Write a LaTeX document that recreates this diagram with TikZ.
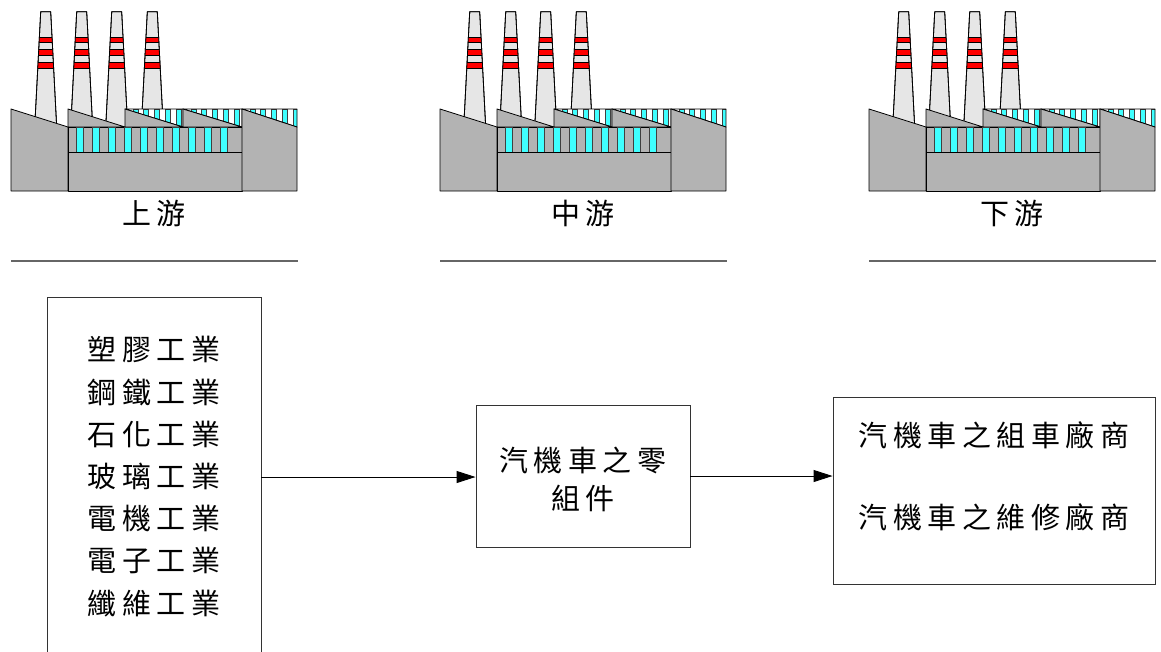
\documentclass[tikz,border=0pt]{standalone}
\usepackage{fontspec}
\newfontfamily\cjk{Noto Sans CJK TC}
\usetikzlibrary{arrows.meta}
\definecolor{bldgray}{HTML}{B3B3B3}
\definecolor{stackgray}{HTML}{E6E6E6}
\definecolor{wincyan}{HTML}{40FFFF}
\definecolor{bandred}{HTML}{FF0000}
\newcommand\gp{\kern5.5pt}
\tikzset{
  outline/.style={draw=black,line width=0.8pt,line join=round},
  bld/.style={outline,fill=bldgray},
  stack/.style={outline,fill=stackgray},
  win/.style={draw=black!75,line width=0.6pt,fill=wincyan},
  band/.style={draw=black,line width=0.6pt,fill=bandred},
  txt/.style={font=\cjk\fontsize{29pt}{42.2pt}\selectfont,inner sep=0pt,align=center},
  box/.style={draw=black!80,line width=0.9pt,fill=white,inner sep=0pt},
  rule/.style={draw=black!60,line width=1.2pt},
  flow/.style={draw=black,line width=0.9pt,-{Triangle[length=19pt,width=12pt]}},
  factory/.pic={
    % four smokestacks with red bands
    \foreach \c in {34.7,70.7,105.7,141.3}{
      \path[stack] (\c-5,11.7) -- (\c+5,11.7) -- (\c+11,127) -- (\c-11,127) -- cycle;
      \begin{scope}
        \clip (\c-5,11.7) -- (\c+5,11.7) -- (\c+11,127) -- (\c-11,127) -- cycle;
        \foreach \t/\b in {37/42.5,49/55,62/68}
          \path[band] (\c-12,\t) rectangle (\c+12,\b);
      \end{scope}
      \path[outline] (\c-5,11.7) -- (\c+5,11.7) -- (\c+11,127) -- (\c-11,127) -- cycle;
    }
    % left wing
    \path[bld] (0,109) -- (57,127) -- (57,191) -- (0,191) -- cycle;
    % main hall roof
    \path[bld] (57,109) -- (114,127) -- (57,127) -- cycle;
    % sawtooth roof with clerestory glazing
    \foreach \a/\b in {114/172,172/231,231/286}{
      \fill[white] (\a,109) -- (\b,109) -- (\b,127) -- cycle;
      \begin{scope}
        \clip (\a,109) -- (\b,109) -- (\b,127) -- cycle;
        \foreach \k in {0,...,5}
          \path[win] (\a+8+\k*10.7,109) rectangle ++(5,18);
      \end{scope}
      \path[outline] (\a,109) -- (\b,109) -- (\b,127) -- cycle;
    }
    \foreach \a/\b in {114/172,172/231}
      \path[bld] (\a,109) -- (\b,127) -- (\a,127) -- cycle;
    % glazed band
    \path[bld] (57,127) rectangle (231,152);
    \foreach \k in {0,...,9}
      \path[win] (65.7+\k*16,127) rectangle ++(6.7,25);
    % lower block
    \path[bld] (57,152) rectangle (231,191);
    % right wing
    \path[bld] (231,109) -- (286,127) -- (286,191) -- (231,191) -- cycle;
  }
}
\begin{document}
\begin{tikzpicture}[x=1pt,y=-1pt]
\useasboundingbox (0,0) rectangle (1161,651);
\clip (0,0) rectangle (1161,651);
\fill[white] (0,0) rectangle (1161,651);

% three factories with captions and rules
\pic at (11,0) {factory};
\pic at (440,0) {factory};
\pic at (869,0) {factory};
\node[txt] (capUp) at (154,213) {上\gp 游};
\node[txt] (capMid) at (583,213) {中\gp 游};
\node[txt] (capDown) at (1012,213) {下\gp 游};
\draw[rule] (11,261) -- (298,261);
\draw[rule] (440,261) -- (727,261);
\draw[rule] (869,261) -- (1156,261);

% supply chain boxes
\node[box,minimum width=214pt,minimum height=360pt] (up) at (154,477) {};
\node[box,minimum width=214pt,minimum height=142pt] (mid) at (583,476) {};
\node[box,minimum width=322pt,minimum height=187pt] (down) at (994,490.5) {};

\node[txt] (upText) at (154,476.5) {塑\gp 膠\gp 工\gp 業\\鋼\gp 鐵\gp 工\gp 業\\石\gp 化\gp 工\gp 業\\玻\gp 璃\gp 工\gp 業\\電\gp 機\gp 工\gp 業\\電\gp 子\gp 工\gp 業\\纖\gp 維\gp 工\gp 業};
\node[txt,font=\cjk\fontsize{29pt}{38pt}\selectfont] (midText) at (583,479) {汽\gp 機\gp 車\gp 之\gp 零\\組\gp 件};
\node[txt] (downText1) at (994,435) {汽\gp 機\gp 車\gp 之\gp 組\gp 車\gp 廠\gp 商};
\node[txt] (downText2) at (994,517) {汽\gp 機\gp 車\gp 之\gp 維\gp 修\gp 廠\gp 商};

% flow arrows
\draw[flow] (up.east) -- (up.east -| mid.west);
\draw[flow] (mid.east) -- (mid.east -| down.west);
\end{tikzpicture}
\end{document}
